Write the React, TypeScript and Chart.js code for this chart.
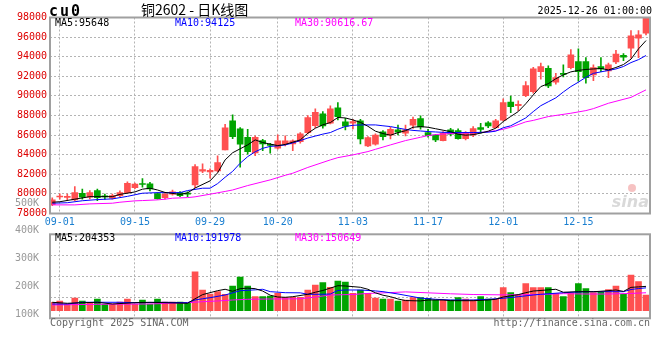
import React, { useEffect, useRef } from 'react';
import { Chart, registerables } from 'chart.js';
Chart.register(...registerables);

// ---------- data ----------
const openP = [78900,79680,79650,79390,80070,79660,80340,79750,79560,79830,
 80130,80640,81020,81020,80030,79620,79970,80130,80030,80920,
 82310,82240,82350,84490,87450,86630,85780,84190,85440,85000,
 84660,85100,85100,85340,86260,86970,88160,87210,88770,87350,
 87210,87450,84900,85070,86330,85990,86530,86190,87010,87680,
 86260,85990,85440,86530,86460,85640,86020,86770,87250,86770,
 87520,89360,89010,90030,90440,92480,92820,91400,92310,92890,
 93500,93500,92140,92990,92550,93470,94150,94870,95890,96400];
const highP = [79600,80000,79970,80750,80480,80340,80480,79970,79970,80310,
 81220,81100,81560,81190,80130,80070,80380,80240,80200,82990,
 83060,82550,83880,87110,88060,86770,86600,85920,85580,85170,
 86020,85920,85510,86260,87990,88670,88400,88980,89320,87720,
 87620,87600,85850,86120,86460,86800,87010,87010,87830,87960,
 86600,86050,86360,86700,86630,86360,86870,87210,87380,87620,
 89690,89970,89490,91460,92920,93340,93060,92310,93160,94720,
 94800,93910,93160,93910,93340,94660,94320,96660,96660,98000];
const lowP = [78800,79450,79390,79320,79460,79490,79320,79460,79460,79730,
 80070,80540,80680,80300,79460,79490,79870,79730,79730,80640,
 82170,81600,82240,84490,85640,82730,84050,83910,84420,84150,
 84560,84900,84420,85170,86120,86770,86700,87140,87550,86530,
 86630,85100,84830,84970,85510,85610,86020,85920,86670,86600,
 85780,85340,85400,85920,85580,85510,85850,86190,86770,86700,
 87450,88300,88500,89930,90270,91710,90850,91190,91940,92750,
 91500,91300,91560,92480,91870,93300,93600,93850,93910,96220];
const closeP = [79400,79750,79720,80130,79660,80130,79620,79700,79830,80130,
 81090,80990,80960,80510,79520,79970,80200,79830,79970,82790,
 82480,82410,83190,86730,85850,85070,84320,85780,85100,84950,
 85410,85410,85410,86120,87790,88330,86940,88670,87890,86910,
 87380,85610,85750,85990,85850,86600,86300,86530,87620,86840,
 85950,85510,86190,86090,85640,86260,86670,86570,86940,87450,
 89320,88910,89150,91050,92750,92990,91020,91870,92200,94180,
 92480,91870,92890,92750,93160,94280,93950,96120,96220,97930];
const volume = [70600,81500,56300,106700,81500,67200,98300,53800,56300,73100,
 98300,56300,89900,56300,98300,73100,73100,73100,62200,327600,
 173900,140300,159600,137800,207500,283100,207500,117600,117600,123500,
 146200,112600,112600,112600,173900,215900,235200,196600,249500,241100,
 146200,173900,146200,106700,98300,98300,81500,89900,109200,109200,
 104200,89900,89900,89900,109200,98300,89900,117600,98300,98300,
 193200,151200,131900,226800,193200,193200,193200,146200,117600,146200,
 226800,184800,151200,157100,176400,207500,137800,299900,243600,131900];

// moving averages: [day index, value]
const ma5 = [[0,79150],[1,79200],[3,79460],[5,79720],[8,79720],[9,79950],[11,80200],[12,80480],[13,80580],[14,80400],[15,80150],[17,79950],[18,80100],[19,80600],[21,81330],[22,82150],[23,83470],[24,84200],[26,85000],[27,85510],[28,85240],[30,84930],[31,85050],[33,85510],[34,86190],[35,86700],[36,87050],[37,87280],[38,87800],[39,87750],[40,87550],[41,87300],[42,86900],[43,86400],[44,86160],[45,85990],[46,86250],[47,86450],[48,86800],[49,86870],[50,86800],[51,86650],[52,86500],[53,86350],[54,86090],[55,85990],[56,86050],[57,86200],[58,86400],[59,86700],[60,87380],[61,87900],[62,88400],[63,89200],[64,90100],[65,90950],[66,91250],[67,91750],[68,92150],[69,92450],[70,92600],[71,92700],[72,92750],[73,92800],[74,92650],[75,92900],[76,93200],[77,93750],[78,94800],[79,95648]];
const ma10 = [[0,79050],[2,79100],[4,79300],[6,79420],[8,79490],[10,79750],[12,80070],[14,80130],[17,80130],[18,80340],[20,80580],[21,80580],[22,81050],[23,81700],[24,82300],[25,83130],[26,83800],[27,84300],[28,84650],[29,84850],[30,84900],[31,85000],[32,85200],[33,85440],[34,85700],[35,85900],[36,86100],[37,86260],[38,86600],[39,86880],[40,87000],[41,87040],[43,87040],[44,86950],[45,86870],[46,86720],[47,86580],[48,86480],[49,86420],[50,86360],[51,86320],[52,86280],[53,86260],[56,86260],[58,86300],[59,86400],[60,86750],[61,86950],[62,87350],[63,87750],[64,88400],[65,89000],[66,89400],[67,89800],[68,90400],[69,90950],[70,91400],[71,91900],[72,92300],[73,92450],[74,92600],[75,92750],[76,93000],[77,93400],[78,93700],[79,94125]];
const ma30 = [[0,78880],[3,78880],[5,78980],[8,79050],[9,79150],[11,79290],[12,79320],[14,79390],[15,79460],[16,79560],[18,79620],[19,79700],[21,79970],[23,80250],[24,80400],[26,80850],[29,81430],[31,81900],[32,82110],[34,82700],[37,83470],[38,83700],[40,83980],[42,84320],[43,84550],[45,85000],[47,85440],[49,85780],[50,85950],[51,86050],[52,86120],[54,86190],[57,86260],[59,86450],[60,86600],[61,86800],[63,87350],[64,87500],[66,87890],[69,88230],[71,88500],[72,88700],[74,89250],[77,89850],[79,90616.67]];
const vma5 = [[0,70600],[2,62200],[4,67200],[6,70600],[8,56300],[11,67200],[13,70600],[15,67200],[18,62200],[19,100000],[20,135000],[22,168000],[23,180000],[24,163000],[25,185000],[26,190000],[27,185000],[28,165000],[29,130000],[30,115000],[31,112600],[32,117600],[34,137800],[35,155000],[36,170000],[37,190000],[38,210000],[39,207500],[41,196600],[42,180000],[43,150000],[44,130000],[45,117600],[46,98300],[47,85000],[49,82000],[50,89900],[52,89900],[53,84000],[56,84000],[58,89900],[59,95800],[60,115000],[61,125000],[62,135000],[63,151200],[64,165000],[66,175000],[67,180000],[68,155000],[70,159600],[72,159600],[73,163000],[75,173900],[76,162000],[77,196000],[78,200000],[79,204353]];
const vma10 = [[0,56300],[2,56300],[4,70600],[9,70600],[11,67200],[15,70600],[18,67200],[19,90000],[20,100000],[21,109200],[23,131900],[25,168000],[27,175000],[28,179800],[29,160000],[31,151200],[33,150000],[34,137800],[36,137800],[37,140300],[38,170000],[39,173900],[41,173900],[43,166000],[44,160000],[46,140300],[48,117600],[49,106000],[51,95800],[53,89900],[56,89900],[58,95800],[60,104200],[62,117600],[64,131900],[65,137800],[68,151200],[71,159600],[76,159600],[77,178000],[78,186000],[79,191978]];
const vma30 = [[0,47900],[6,53800],[13,56300],[18,67200],[20,75600],[22,81500],[24,89900],[26,95800],[29,98300],[33,100000],[35,115000],[37,131900],[40,136000],[42,145000],[45,152000],[47,158000],[50,150000],[53,142000],[56,136000],[60,133000],[63,134000],[66,138000],[68,143000],[71,140000],[74,140000],[77,145000],[79,150649]];

const dateTickIdx = [1, 11, 21, 30, 40, 50, 60, 70];
const dateTickLabels = ['09-01', '09-15', '09-29', '10-20', '11-03', '11-17', '12-01', '12-15'];
const volTickValues = [100000, 200000, 300000, 400000, 500000];
const volTickLabels = ['100K', '200K', '300K', '400K', '500K'];
const titleSymbol = 'cu0';
const titleText = '铜2602 - 日K线图';
const dateTimeText = '2025-12-26 01:00:00';

// ---------- styles ----------
const RED = '#ff5050';
const GREEN = '#00a400';
const MONO = '"DejaVu Sans Mono", monospace';
const GRID = '#b4b4b4';
const FRAME = '#a0a0a0';
const VOL_TOP = 190; // top of the volume canvas on the page

const idx = closeP.map((_, i) => i);
const isUp = (i: number) => closeP[i] >= openP[i];
const candleColors = idx.map(i => (isUp(i) ? RED : GREEN));
const pts = (a: number[][]) => a.map(([x, y]) => ({ x, y }));
const last = (a: number[][]) => a[a.length - 1][1];

const xScale = (showLabels: boolean, height: number) => ({
  type: 'linear' as const,
  min: -0.3,
  max: 79.53,
  offset: false,
  afterBuildTicks: (s: any) => { s.ticks = dateTickIdx.map(v => ({ value: v })); },
  afterFit: (s: any) => { s.height = height; s.paddingLeft = 0; s.paddingRight = 0; },
  ticks: {
    display: showLabels,
    autoSkip: false,
    maxRotation: 0,
    padding: 3,
    color: '#1a7fd0',
    font: { family: MONO, size: 10 },
    callback: (_v: any, i: number) => dateTickLabels[i],
  },
  grid: { color: GRID, lineWidth: 1, drawTicks: false, offset: false },
  border: { display: false, dash: [2, 2] },
});

function drawFrame(chart: any) {
  const { ctx, chartArea: a } = chart;
  ctx.save();
  ctx.strokeStyle = FRAME;
  ctx.lineWidth = 2;
  ctx.strokeRect(a.left, a.top, a.right - a.left, a.bottom - a.top);
  ctx.restore();
}

function drawLegend(ctx: CanvasRenderingContext2D, y: number, items: [string, string][]) {
  ctx.font = `10px ${MONO}`;
  ctx.textBaseline = 'middle';
  ctx.textAlign = 'left';
  const xs = [55, 175, 295];
  items.forEach(([t, c], k) => { ctx.fillStyle = c; ctx.fillText(t, xs[k], y); });
}

const pricePlugin = {
  id: 'priceDecor',
  afterDraw(chart: any) {
    const ctx: CanvasRenderingContext2D = chart.ctx;
    drawFrame(chart);
    ctx.save();
    ctx.fillStyle = '#000';
    ctx.textBaseline = 'middle';
    ctx.font = `bold 15px ${MONO}`;
    (ctx as any).letterSpacing = '2px';
    ctx.fillText(titleSymbol, 49, 12);
    (ctx as any).letterSpacing = '0px';
    ctx.font = '14px "Noto Sans CJK SC"';
    ctx.fillText(titleText, 141, 10);
    ctx.font = `10px ${MONO}`;
    ctx.textAlign = 'right';
    ctx.fillText(dateTimeText, 652, 11);
    drawLegend(ctx, 23, [
      [`MA5:${last(ma5)}`, '#000'],
      [`MA10:${last(ma10)}`, '#0000ff'],
      [`MA30:${last(ma30)}`, '#ff00ff'],
    ]);
    ctx.font = 'italic bold 16px "DejaVu Sans"';
    ctx.textAlign = 'right';
    ctx.textBaseline = 'alphabetic';
    ctx.fillStyle = 'rgba(170,170,170,0.45)';
    ctx.fillText('sina', 649, 207);
    ctx.fillStyle = 'rgba(230,80,80,0.35)';
    ctx.beginPath();
    ctx.arc(632, 188, 4, 0, Math.PI * 2);
    ctx.fill();
    ctx.restore();
  },
};

const volPlugin = {
  id: 'volDecor',
  afterDraw(chart: any) {
    const ctx: CanvasRenderingContext2D = chart.ctx;
    drawFrame(chart);
    ctx.save();
    drawLegend(ctx, 238.5 - VOL_TOP, [
      [`MA5:${last(vma5)}`, '#000'],
      [`MA10:${last(vma10)}`, '#0000ff'],
      [`MA30:${last(vma30)}`, '#ff00ff'],
    ]);
    ctx.font = `10px ${MONO}`;
    ctx.fillStyle = '#666';
    ctx.textBaseline = 'middle';
    ctx.textAlign = 'left';
    ctx.fillText('Copyright 2025 SINA.COM', 50, 323.7 - VOL_TOP);
    ctx.textAlign = 'right';
    ctx.fillText('http://finance.sina.com.cn', 650, 323.7 - VOL_TOP);
    ctx.restore();
  },
};

const lineDs = (data: number[][], color: string, yAxisID: string) => ({
  type: 'line' as const,
  data: pts(data),
  borderColor: color,
  borderWidth: 1,
  pointRadius: 0,
  tension: 0,
  yAxisID,
  order: 0,
});

export default function App() {
  const c1 = useRef<HTMLCanvasElement>(null);
  const c2 = useRef<HTMLCanvasElement>(null);

  useEffect(() => {
    const common = {
      responsive: false,
      animation: false as const,
      devicePixelRatio: 1,
      events: [] as any[],
      plugins: { legend: { display: false }, tooltip: { enabled: false } },
    };

    const priceChart = new Chart(c1.current!, {
      type: 'bar',
      data: {
        datasets: [
          {
            type: 'bar',
            data: idx.map(i => ({ x: i, y: [lowP[i], highP[i]] })) as any,
            backgroundColor: candleColors,
            barThickness: 1,
            grouped: false,
            order: 2,
          },
          {
            type: 'bar',
            data: idx.map(i => ({ x: i, y: [openP[i], closeP[i]] })) as any,
            backgroundColor: candleColors,
            barThickness: 6,
            minBarLength: 1,
            grouped: false,
            order: 1,
          },
          lineDs(ma5, '#000000', 'y') as any,
          lineDs(ma10, '#0000ff', 'y') as any,
          lineDs(ma30, '#ff00ff', 'y') as any,
        ],
      },
      options: {
        ...common,
        layout: { padding: { left: 0, right: 10, top: 17.5, bottom: 0 } },
        scales: {
          x: xScale(true, 18.5) as any,
          y: {
            type: 'linear',
            position: 'left',
            min: 78000,
            max: 98000,
            afterFit: (s: any) => { s.width = 50; s.paddingTop = 0; s.paddingBottom = 0; },
            ticks: {
              stepSize: 2000,
              padding: 3,
              color: '#dd0000',
              font: { family: MONO, size: 10 },
              callback: (v: any) => String(v),
            },
            grid: { color: GRID, lineWidth: 1, drawTicks: false },
            border: { display: false, dash: [2, 2] },
          },
        },
      },
      plugins: [pricePlugin],
    });

    const volChart = new Chart(c2.current!, {
      type: 'bar',
      data: {
        datasets: [
          {
            type: 'bar',
            data: idx.map(i => ({ x: i, y: volume[i] })) as any,
            backgroundColor: candleColors,
            barThickness: 6,
            grouped: false,
            yAxisID: 'yv',
            order: 1,
          },
          lineDs(vma5, '#000000', 'yv') as any,
          lineDs(vma10, '#0000ff', 'yv') as any,
          lineDs(vma30, '#ff00ff', 'yv') as any,
        ],
      },
      options: {
        ...common,
        layout: { padding: { left: 0, right: 10, top: 234.3 - VOL_TOP, bottom: 360 - 318.3 } },
        scales: {
          x: xScale(false, 0) as any,
          yv: {
            type: 'linear',
            position: 'left',
            min: -64000,
            max: 642000,
            afterFit: (s: any) => { s.width = 0; s.paddingTop = 0; s.paddingBottom = 0; },
            ticks: { display: false, count: 5 },
            grid: { color: GRID, lineWidth: 1, drawTicks: false },
            border: { display: false, dash: [2, 2] },
          },
          yl: {
            type: 'linear',
            position: 'left',
            min: 85300,
            max: 387400,
            afterBuildTicks: (s: any) => { s.ticks = volTickValues.map(v => ({ value: v })); },
            afterFit: (s: any) => { s.width = 50; s.paddingTop = 0; s.paddingBottom = 0; },
            ticks: {
              padding: 3,
              color: '#999999',
              font: { family: MONO, size: 10 },
              callback: (_v: any, i: number) => volTickLabels[i],
            },
            grid: { display: false },
            border: { display: false },
          },
        },
      },
      plugins: [volPlugin],
    });

    return () => {
      priceChart.destroy();
      volChart.destroy();
    };
  }, []);

  return (
    <div style={{ position: 'absolute', left: 0, top: 0, width: 660, height: 360, background: '#fff' }}>
      <canvas ref={c1} width={660} height={232} style={{ position: 'absolute', left: 0, top: 0 }} />
      <canvas ref={c2} width={660} height={360 - VOL_TOP} style={{ position: 'absolute', left: 0, top: VOL_TOP }} />
    </div>
  );
}
